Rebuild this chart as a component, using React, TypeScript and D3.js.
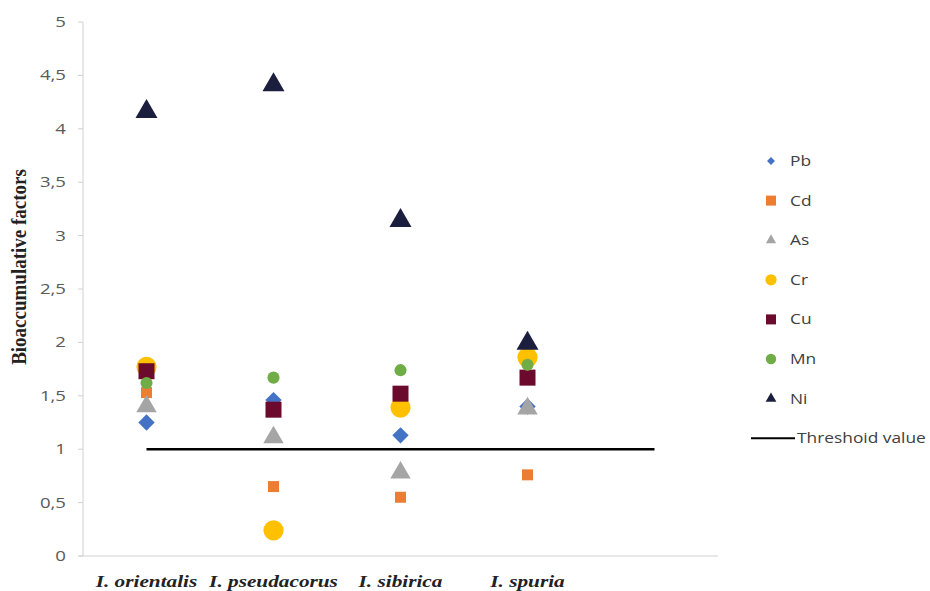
import React from "react";
import * as d3 from "d3";

const categories = ["I. orientalis", "I. pseudacorus", "I. sibirica", "I. spuria"];
const seriesNames = ["Pb", "Cd", "As", "Cr", "Cu", "Mn", "Ni"];
const Pb = [1.25, 1.46, 1.13, 1.4];
const Cd = [1.53, 0.65, 0.55, 0.76];
const As = [1.4, 1.11, 0.78, 1.38];
const Cr = [1.77, 0.24, 1.39, 1.86];
const Cu = [1.73, 1.37, 1.52, 1.67];
const Mn = [1.62, 1.67, 1.74, 1.79];
const Ni = [4.16, 4.41, 3.14, 1.99];
const threshold = [1, 1, 1, 1, 1];
const yTicks = [0, 0.5, 1, 1.5, 2, 2.5, 3, 3.5, 4, 4.5, 5];

const seriesValues = [Pb, Cd, As, Cr, Cu, Mn, Ni];
const styles = [
  { type: d3.symbolDiamond2, color: "#4472C4", size: 170, lsize: 40 },
  { type: d3.symbolSquare, color: "#ED7D31", size: 121, lsize: 100 },
  { type: d3.symbolTriangle, color: "#A5A5A5", size: 180, lsize: 45 },
  { type: d3.symbolCircle, color: "#FFC000", size: 320, lsize: 100 },
  { type: d3.symbolSquare, color: "#6B0A2C", size: 256, lsize: 100 },
  { type: d3.symbolCircle, color: "#70AD47", size: 115, lsize: 85 },
  { type: d3.symbolTriangle, color: "#1B1E3C", size: 210, lsize: 50 },
];

const SX = 1.33;
const LSX = 1.24;
const sans = "'Open Sans', sans-serif";
const serif = "'Liberation Serif', 'Times New Roman', serif";

export default function App() {
  const W = 930, H = 591;
  const x = d3.scaleLinear().domain([0, 5]).range([83, 718]);
  const y = d3.scaleLinear().domain([0, 5]).range([556, 22]);
  const catX = (i: number) => x(i + 0.5);
  const fmt = (v: number) => String(v).replace(".", ",");
  const legendY = (i: number) => 161 + i * 39.6;
  const line = d3.line<number>().x((_, i) => catX(i)).y((d) => y(d));

  return (
    <svg width={W} height={H} style={{ position: "absolute", left: 0, top: 0, background: "#fff" }}>
      {/* axes */}
      <line x1={x(0)} x2={x(0)} y1={y(5)} y2={y(0)} stroke="#d0d0d0" strokeWidth={1} />
      <line x1={x(0) - 4} x2={x(5)} y1={y(0)} y2={y(0)} stroke="#d0d0d0" strokeWidth={1} />
      {yTicks.map((t) => (
        <g key={t}>
          <line x1={x(0) - 5} x2={x(0)} y1={y(t)} y2={y(t)} stroke="#d0d0d0" />
          <text transform={`translate(66,${y(t)}) scale(${SX},1)`} dy="0.35em" textAnchor="end" fontFamily={sans} fontSize={14} fill="#595959">
            {fmt(t)}
          </text>
        </g>
      ))}
      {categories.map((c, i) => (
        <text key={c} transform={`translate(${catX(i)},587) scale(${SX},1)`} textAnchor="middle" fontFamily={serif} fontStyle="italic" fontWeight="bold" fontSize={16} fill="#222">
          {c}
        </text>
      ))}
      <text transform={`translate(26,267) scale(1.15,1) rotate(-90)`} textAnchor="middle" fontFamily={serif} fontWeight="bold" fontSize={19} fill="#222">
        Bioaccumulative factors
      </text>

      {/* threshold */}
      <path d={line(threshold) || ""} fill="none" stroke="#000" strokeWidth={2.5} />

      {/* points */}
      {seriesValues.map((vals, s) => (
        <g key={seriesNames[s]}>
          {vals.map((v, i) => (
            <path
              key={i}
              d={d3.symbol().type(styles[s].type).size(styles[s].size)() || ""}
              transform={`translate(${catX(i)},${y(v)})`}
              fill={styles[s].color}
            />
          ))}
        </g>
      ))}

      {/* legend */}
      {seriesNames.map((n, s) => (
        <g key={n} transform={`translate(0,${legendY(s)})`}>
          <path d={d3.symbol().type(styles[s].type).size(styles[s].lsize)() || ""} transform="translate(771,0)" fill={styles[s].color} />
          <text transform={`translate(790,0) scale(${LSX},1)`} dy="0.35em" fontFamily={sans} fontSize={14} fill="#404040">
            {n}
          </text>
        </g>
      ))}
      <g transform={`translate(0,${legendY(7)})`}>
        <line x1={751} x2={795} y1={0} y2={0} stroke="#000" strokeWidth={2} />
        <text transform={`translate(797,0) scale(${LSX},1)`} dy="0.35em" fontFamily={sans} fontSize={14} fill="#404040">
          Threshoid value
        </text>
      </g>
    </svg>
  );
}
